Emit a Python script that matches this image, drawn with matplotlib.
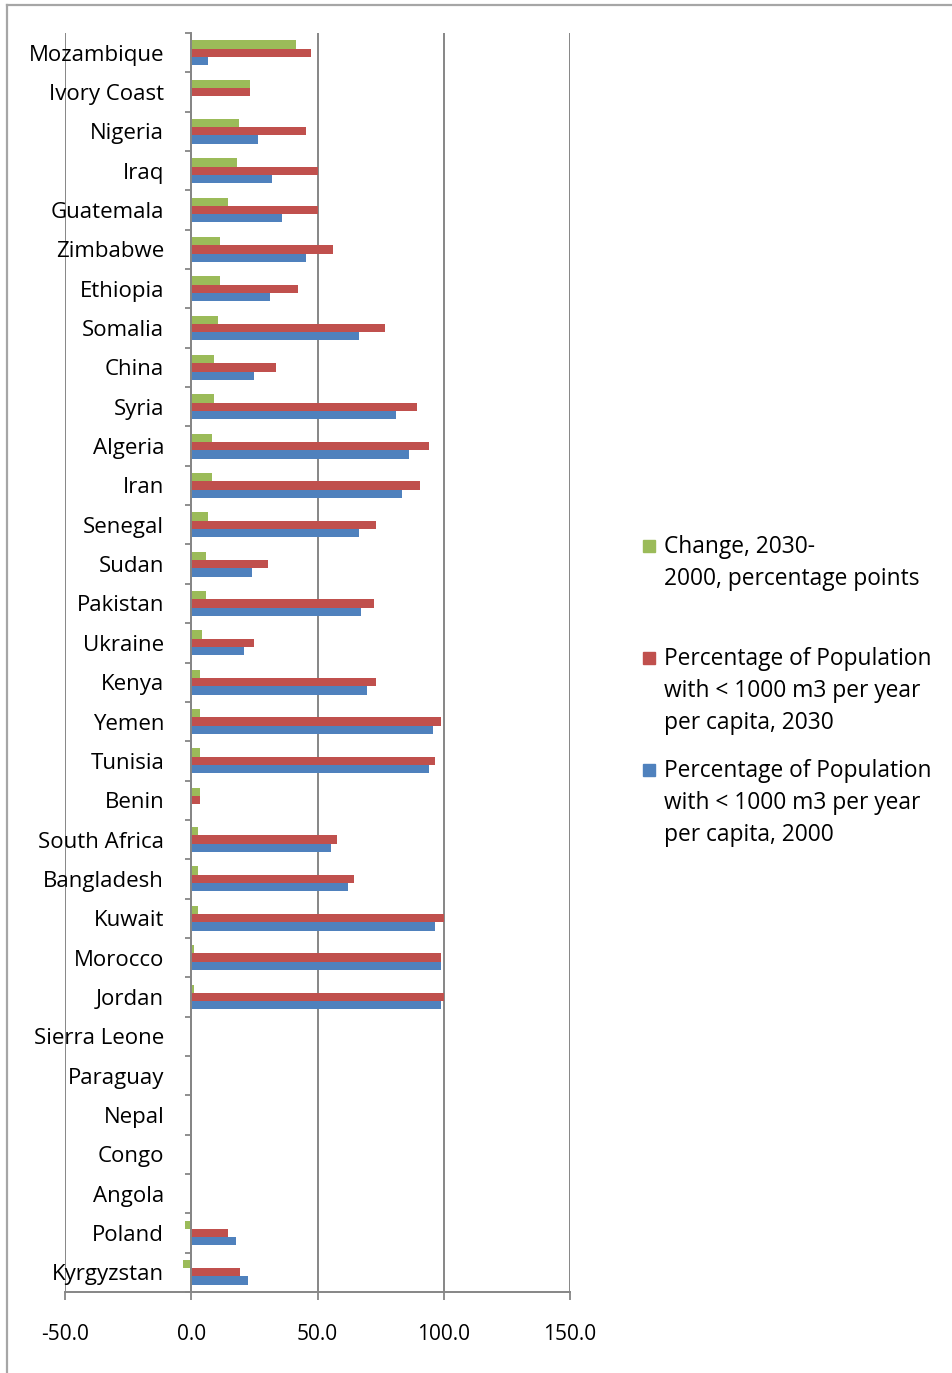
import matplotlib
matplotlib.use("Agg")
import matplotlib.pyplot as plt
from matplotlib.patches import Rectangle
from matplotlib.lines import Line2D
import numpy as np

# Countries, top to bottom
countries = [
    "Mozambique", "Ivory Coast", "Nigeria", "Iraq", "Guatemala", "Zimbabwe",
    "Ethiopia", "Somalia", "China", "Syria", "Algeria", "Iran", "Senegal",
    "Sudan", "Pakistan", "Ukraine", "Kenya", "Yemen", "Tunisia", "Benin",
    "South Africa", "Bangladesh", "Kuwait", "Morocco", "Jordan",
    "Sierra Leone", "Paraguay", "Nepal", "Congo", "Angola", "Poland",
    "Kyrgyzstan",
]

# Change 2030-2000, percentage points
change = [
    41.3, 23.1, 19.1, 18.3, 14.5, 11.3,
    11.3, 10.5, 9.0, 9.0, 8.2, 8.2, 6.5,
    5.8, 5.8, 4.2, 3.4, 3.4, 3.4, 3.4,
    2.6, 2.6, 2.6, 1.1, 1.1,
    0.0, 0.0, 0.0, 0.0, 0.0, -2.6,
    -3.4,
]

# Share of population with < 1000 m3 per year per capita, 2030
pct_2030 = [
    47.6, 23.1, 45.3, 50.0, 50.0, 56.3,
    42.1, 76.9, 33.4, 89.6, 94.3, 90.4, 73.0,
    30.2, 72.2, 24.7, 73.0, 99.1, 96.7, 3.4,
    57.9, 64.3, 100.0, 99.1, 100.0,
    0.0, 0.0, 0.0, 0.0, 0.0, 14.6,
    19.2,
]

# Share of population with < 1000 m3 per year per capita, 2000
pct_2000 = [
    6.5, 0.0, 26.3, 31.8, 35.8, 45.3,
    31.0, 66.6, 24.7, 80.9, 86.4, 83.3, 66.6,
    23.9, 67.4, 20.7, 69.8, 95.9, 94.3, 0.0,
    55.5, 61.9, 96.7, 99.1, 99.1,
    0.0, 0.0, 0.0, 0.0, 0.0, 17.8,
    22.4,
]

series_labels = [
    "Change, 2030-\n2000, percentage points",
    "Percentage of Population\nwith < 1000 m3 per year\nper capita, 2030",
    "Percentage of Population\nwith < 1000 m3 per year\nper capita, 2000",
]

x_ticks = [-50, 0, 50, 100, 150]

GREEN = "#9BBB59"
RED = "#C0504D"
BLUE = "#4F81BD"
GRID = "#868686"

plt.rcParams["font.family"] = ["Open Sans", "DejaVu Sans"]

W, H = 953, 1373
fig = plt.figure(figsize=(W / 100, H / 100), dpi=100)
fig.patch.set_facecolor("white")

ax = fig.add_axes([65 / W, 81 / H, 505 / W, 1259 / H])

# category axis crosses at zero (set before tick styling, it resets ticks)
ax.spines["left"].set_position(("data", 0))
for side in ("top", "right"):
    ax.spines[side].set_visible(False)
for side in ("left", "bottom"):
    ax.spines[side].set_color(GRID)
    ax.spines[side].set_linewidth(1.4)
    ax.spines[side].set_zorder(4)

y = np.arange(len(countries))
bh = 0.21
ax.barh(y - bh, change, height=bh, color=GREEN, zorder=3)
ax.barh(y, pct_2030, height=bh, color=RED, zorder=3)
ax.barh(y + bh, pct_2000, height=bh, color=BLUE, zorder=3)

ax.set_xlim(x_ticks[0], x_ticks[-1])
ax.set_ylim(len(countries) - 0.5, -0.5)

# x axis
ax.set_xticks(x_ticks)
ax.set_xticklabels([f"{v:.1f}" for v in x_ticks], fontsize=15)
ax.tick_params(axis="x", length=5.8, width=1.3, color=GRID, pad=17.5)
ax.xaxis.grid(True, color=GRID, lw=1.4, zorder=0)

# category labels and boundary ticks
ax.set_yticks(y)
ax.set_yticklabels(countries, fontsize=16)
ax.tick_params(axis="y", which="major", length=0, pad=19.5)
ax.set_yticks(np.arange(-0.5, len(countries), 1.0), minor=True)
ax.tick_params(axis="y", which="minor", length=4.5, width=1.3, color=GRID,
               direction="out")

# Legend drawn beside the plot
legend_colors = [GREEN, RED, BLUE]
legend_tops = [547, 659, 771]
line_step = 32
for color, label, top in zip(legend_colors, series_labels, legend_tops):
    fig.patches.append(Rectangle((643 / W, 1 - (top + 5) / H), 12 / W, 12 / H,
                                 transform=fig.transFigure, color=color))
    for k, line in enumerate(label.split("\n")):
        fig.text(664 / W, 1 - (top + k * line_step) / H, line,
                 fontsize=16.4, va="center", ha="left")

# Chart frame
fig.add_artist(Line2D([7 / W, 1], [1 - 5 / H, 1 - 5 / H],
                      transform=fig.transFigure, color="#a6a6a6", lw=1.6))
fig.add_artist(Line2D([7 / W, 7 / W], [0, 1 - 5 / H],
                      transform=fig.transFigure, color="#a6a6a6", lw=1.6))

fig.savefig("out.png", dpi=100)
